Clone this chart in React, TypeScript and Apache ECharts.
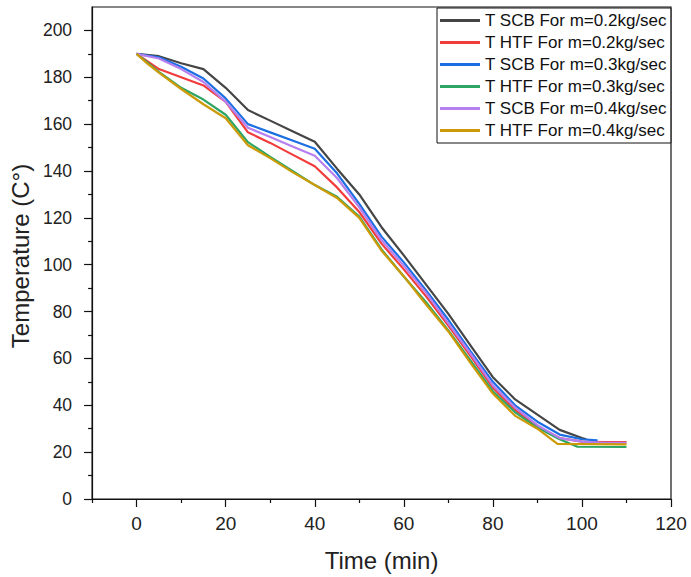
import React, { useEffect, useRef } from "react";
import * as echarts from "echarts";

const seriesNames = [
  "T SCB For m=0.2kg/sec",
  "T HTF For m=0.2kg/sec",
  "T SCB For m=0.3kg/sec",
  "T HTF For m=0.3kg/sec",
  "T SCB For m=0.4kg/sec",
  "T HTF For m=0.4kg/sec",
];
const seriesColors = ["#454545", "#f23b3b", "#1c6fe3", "#2da564", "#b57ff0", "#cc9a06"];

const scb02Time = [0, 5, 10, 15, 20, 25, 30, 35, 40, 45, 50, 55, 60, 65, 70, 75, 80, 85, 90, 95, 100, 101];
const scb02Temp = [190, 189, 186, 183.5, 175.5, 166, 161.5, 157, 152.5, 141, 130, 116, 104, 91.5, 79, 65.5, 52, 42.5, 36, 29.5, 26, 25.5];

const htf02Time = [0, 5, 10, 15, 20, 25, 30, 35, 40, 45, 50, 55, 60, 65, 70, 75, 80, 85, 90, 95, 100, 105, 110];
const htf02Temp = [190, 183.5, 180, 176.5, 169.5, 156.5, 152, 147, 142, 133, 122.5, 109, 98, 86.5, 74, 61, 47.5, 38, 31, 26, 24.5, 24.3, 24.3];

const scb03Time = [0, 5, 10, 15, 20, 25, 30, 35, 40, 45, 50, 55, 60, 65, 70, 75, 80, 85, 90, 95, 100, 103.5];
const scb03Temp = [190, 188.5, 184.5, 179.5, 171, 160, 156.5, 153, 149.5, 139, 126, 112, 101, 89, 76.5, 63, 50, 40, 33, 27.5, 25.5, 25];

const htf03Time = [0, 5, 10, 15, 20, 25, 30, 35, 40, 45, 50, 55, 60, 65, 70, 75, 80, 85, 90, 95, 99, 110];
const htf03Temp = [190, 182.3, 175.5, 170.5, 164, 152.3, 146, 140, 134, 129, 120.5, 106.5, 95, 84, 72, 59, 46, 37, 30.5, 25.5, 22.3, 22.2];

const scb04Time = [0, 5, 10, 15, 20, 25, 30, 35, 40, 45, 50, 55, 60, 65, 70, 75, 80, 85, 90, 95, 100, 105, 110];
const scb04Temp = [190, 188, 183.5, 178, 169.5, 158.5, 154.5, 150.5, 146.5, 137, 124.5, 110.5, 99.5, 88, 75, 62, 48.5, 39, 31.5, 26, 24.5, 24, 24];

const htf04Time = [0, 2, 5, 10, 15, 20, 25, 30, 35, 40, 45, 50, 55, 60, 65, 70, 75, 80, 85, 90, 94.5, 110];
const htf04Temp = [190, 186.5, 182, 175, 168.5, 162.5, 151, 145.5, 139.5, 134, 128.5, 120, 106, 95, 83, 71.5, 58, 45, 35.5, 30, 23.5, 23.3];

const seriesTimes = [scb02Time, htf02Time, scb03Time, htf03Time, scb04Time, htf04Time];
const seriesTemps = [scb02Temp, htf02Temp, scb03Temp, htf03Temp, scb04Temp, htf04Temp];

const xMajorTicks = [0, 20, 40, 60, 80, 100, 120];
const xMinorTicks = [-10, 10, 30, 50, 70, 90, 110];
const yMajorTicks = [0, 20, 40, 60, 80, 100, 120, 140, 160, 180, 200];
const yMinorTicks = [10, 30, 50, 70, 90, 110, 130, 150, 170, 190];

const FONT = "'Liberation Sans', Arial, sans-serif";
const X_MIN = -10;
const X_MAX = 120;
const Y_MIN = 0;
const Y_MAX = 210;

function tickAxis(kind: "x" | "y", values: number[], length: number) {
  return {
    type: "value",
    min: kind === "x" ? X_MIN : Y_MIN,
    max: kind === "x" ? X_MAX : Y_MAX,
    position: kind === "x" ? "bottom" : "left",
    axisLine: { show: false, onZero: false },
    axisTick: { show: true, inside: false, length, customValues: values, lineStyle: { color: "#111", width: 1.2 } },
    axisLabel: { show: false },
    splitLine: { show: false },
  };
}

export default function App() {
  const ref = useRef<HTMLDivElement>(null);
  useEffect(() => {
    if (!ref.current) return;
    const chart = echarts.init(ref.current, undefined, { renderer: "svg" });
    const series = seriesNames.map((name, i) => ({
      name,
      type: "line",
      xAxisIndex: 0,
      yAxisIndex: 0,
      showSymbol: false,
      symbol: "none",
      color: seriesColors[i],
      lineStyle: { width: 2.2, color: seriesColors[i] },
      data: seriesTimes[i].map((t, j) => [t, seriesTemps[i][j]]),
    }));
    const inX = (v: number) => v > X_MIN && v < X_MAX;
    const inY = (v: number) => v > Y_MIN && v < Y_MAX;
    chart.setOption({
      animation: false,
      backgroundColor: "#fff",
      grid: {
        left: 90,
        right: 20,
        top: 7,
        bottom: 76,
        show: true,
        borderColor: "#111",
        borderWidth: 1.2,
        containLabel: false,
      },
      legend: {
        orient: "vertical",
        left: 437,
        top: 8,
        data: seriesNames,
        icon: "rect",
        itemWidth: 40,
        itemHeight: 3,
        itemGap: 5,
        padding: [4, 4, 4, 3],
        borderColor: "#111",
        borderWidth: 1,
        backgroundColor: "#fff",
        textStyle: { fontSize: 17, fontFamily: FONT, color: "#111" },
      },
      xAxis: [
        {
          type: "value",
          min: X_MIN,
          max: X_MAX,
          position: "bottom",
          name: "Time (min)",
          nameLocation: "middle",
          nameGap: 49,
          nameTextStyle: { fontSize: 24, fontFamily: FONT, color: "#222" },
          axisLine: { show: true, onZero: false, lineStyle: { color: "#111", width: 1.2 } },
          axisTick: { show: false },
          axisLabel: { show: true, customValues: xMajorTicks, margin: 15, fontSize: 19, fontFamily: FONT, color: "#222" },
          splitLine: { show: false },
        },
        tickAxis("x", xMajorTicks.filter(inX), 8),
        tickAxis("x", xMajorTicks.filter((v) => !inX(v)), 8),
        tickAxis("x", xMinorTicks.filter(inX), 4),
        tickAxis("x", xMinorTicks.filter((v) => !inX(v)), 4),
      ],
      yAxis: [
        {
          type: "value",
          min: Y_MIN,
          max: Y_MAX,
          position: "left",
          name: "Temperature (C°)",
          nameLocation: "middle",
          nameGap: 55,
          nameTextStyle: { fontSize: 24, fontFamily: FONT, color: "#222", padding: [0, 6, 0, 0] },
          axisLine: { show: true, onZero: false, lineStyle: { color: "#111", width: 1.2 } },
          axisTick: { show: false },
          axisLabel: { show: true, customValues: yMajorTicks, margin: 20, fontSize: 17.5, fontFamily: FONT, color: "#222" },
          splitLine: { show: false },
        },
        tickAxis("y", yMajorTicks.filter(inY), 8),
        tickAxis("y", yMajorTicks.filter((v) => !inY(v)), 8),
        tickAxis("y", yMinorTicks.filter(inY), 4),
      ],
      series,
    });
    return () => chart.dispose();
  }, []);
  return (
    <div
      ref={ref}
      style={{ position: "absolute", left: 0, top: 0, width: 691, height: 577 }}
    />
  );
}
